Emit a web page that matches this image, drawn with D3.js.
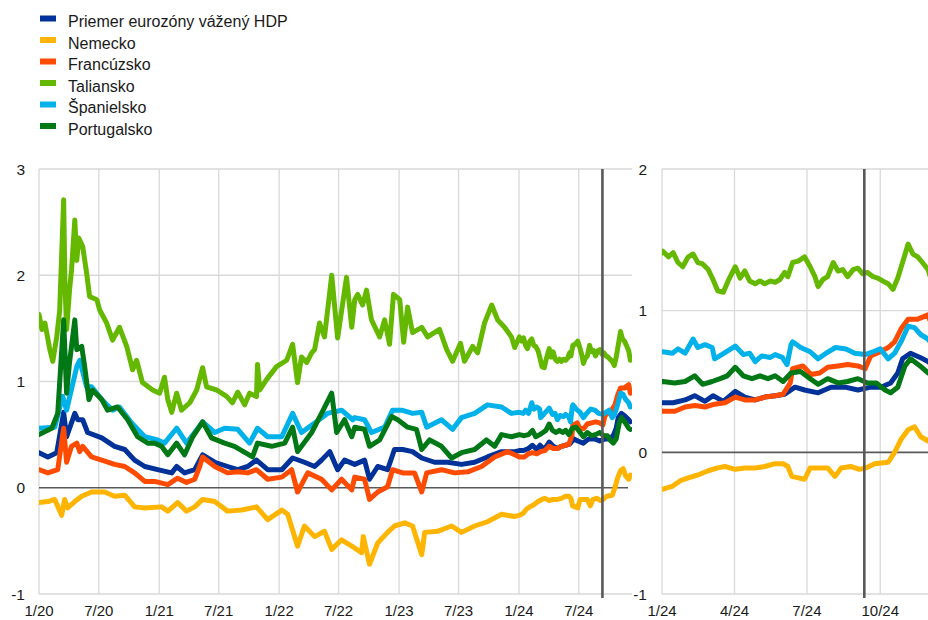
<!DOCTYPE html>
<html>
<head>
<meta charset="utf-8">
<script src="https://cdn.jsdelivr.net/npm/d3@7"></script>
<style>
  body { margin: 0; background: #fff; }
  svg text { font-family: "Liberation Sans", Arial, sans-serif; fill: #1a1a1a; }
  .grid { stroke: #d9d9d9; stroke-width: 1.3; }
  .zero { stroke: #595959; stroke-width: 1.6; }
  .event { stroke: #595959; stroke-width: 2.6; }
  .series { fill: none; stroke-width: 5; stroke-linejoin: round; stroke-linecap: round; }
</style>
</head>
<body>
<svg id="vis" width="928" height="620"></svg>
<script>
// series names as in the legend
var NAMES = ["Priemer eurozóny vážený HDP", "Nemecko", "Francúzsko", "Taliansko", "Španielsko", "Portugalsko"];

var EA = [["2020-01-01",0.33],["2020-01-28",0.29],["2020-02-24",0.33],["2020-03-16",0.71],["2020-03-25",0.48],["2020-04-19",0.70],["2020-04-28",0.64],["2020-05-13",0.64],["2020-05-28",0.52],["2020-07-10",0.47],["2020-08-18",0.39],["2020-09-18",0.36],["2020-10-18",0.26],["2020-11-18",0.20],["2020-12-27",0.17],["2021-02-08",0.14],["2021-02-23",0.20],["2021-03-19",0.14],["2021-04-19",0.17],["2021-05-13",0.31],["2021-06-19",0.24],["2021-07-28",0.20],["2021-08-28",0.17],["2021-09-27",0.20],["2021-10-24",0.26],["2021-11-27",0.17],["2022-01-09",0.17],["2022-02-11",0.28],["2022-03-19",0.24],["2022-04-19",0.20],["2022-05-10",0.26],["2022-06-04",0.34],["2022-06-28",0.17],["2022-07-19",0.26],["2022-08-19",0.22],["2022-09-18",0.26],["2022-10-03",0.08],["2022-10-28",0.20],["2022-11-27",0.17],["2022-12-18",0.36],["2023-01-12",0.36],["2023-02-11",0.34],["2023-03-11",0.28],["2023-04-19",0.24],["2023-05-29",0.24],["2023-07-10",0.22],["2023-08-19",0.24],["2023-09-27",0.29],["2023-11-09",0.34],["2023-12-19",0.34],
  ["2024-01-02",0.35],["2024-01-15",0.35],["2024-01-30",0.37],["2024-02-11",0.40],["2024-02-24",0.36],["2024-03-05",0.40],["2024-03-18",0.36],["2024-04-02",0.43],["2024-04-14",0.39],["2024-04-27",0.37],["2024-05-09",0.39],["2024-05-22",0.40],["2024-06-03",0.41],["2024-06-16",0.46],["2024-06-28",0.44],["2024-07-15",0.42],["2024-07-31",0.46],["2024-08-18",0.46],["2024-09-03",0.44],["2024-09-19",0.46],["2024-10-02",0.46],["2024-10-14",0.49],["2024-10-23",0.56],["2024-10-29",0.66],["2024-11-08",0.70],["2024-11-20",0.67],["2024-11-30",0.64],["2024-12-05",0.62]];

var DE = [["2020-01-01",-0.14],["2020-01-28",-0.13],["2020-02-18",-0.11],["2020-03-10",-0.26],["2020-03-19",-0.11],["2020-03-28",-0.19],["2020-04-19",-0.13],["2020-05-10",-0.08],["2020-06-09",-0.04],["2020-07-19",-0.04],["2020-08-18",-0.08],["2020-09-18",-0.07],["2020-10-18",-0.18],["2020-11-18",-0.19],["2021-01-08",-0.18],["2021-01-27",-0.22],["2021-02-26",-0.14],["2021-03-25",-0.22],["2021-04-19",-0.18],["2021-05-13",-0.11],["2021-06-19",-0.13],["2021-07-28",-0.22],["2021-09-09",-0.21],["2021-10-24",-0.18],["2021-11-27",-0.30],["2022-01-09",-0.21],["2022-01-27",-0.25],["2022-02-26",-0.55],["2022-03-19",-0.36],["2022-04-19",-0.46],["2022-05-19",-0.41],["2022-06-10",-0.58],["2022-07-10",-0.49],["2022-08-10",-0.55],["2022-09-09",-0.61],["2022-09-14",-0.46],["2022-10-03",-0.72],["2022-10-28",-0.52],["2022-11-27",-0.42],["2022-12-18",-0.36],["2023-01-18",-0.33],["2023-02-11",-0.36],["2023-03-11",-0.63],["2023-03-20",-0.42],["2023-04-28",-0.41],["2023-06-10",-0.36],["2023-07-10",-0.42],["2023-08-19",-0.36],["2023-09-27",-0.32],["2023-11-09",-0.25],["2023-12-19",-0.27],
  ["2024-01-02",-0.26],["2024-01-14",-0.24],["2024-01-24",-0.20],["2024-02-03",-0.18],["2024-02-15",-0.16],["2024-02-28",-0.13],["2024-03-11",-0.11],["2024-03-20",-0.10],["2024-04-02",-0.12],["2024-04-14",-0.11],["2024-04-27",-0.11],["2024-05-09",-0.10],["2024-05-22",-0.08],["2024-06-01",-0.08],["2024-06-07",-0.10],["2024-06-12",-0.17],["2024-06-20",-0.18],["2024-06-28",-0.19],["2024-07-05",-0.11],["2024-07-27",-0.11],["2024-08-05",-0.17],["2024-08-13",-0.11],["2024-08-25",-0.10],["2024-09-05",-0.12],["2024-09-13",-0.11],["2024-09-24",-0.08],["2024-10-11",-0.07],["2024-10-19",0.00],["2024-10-27",0.09],["2024-11-05",0.16],["2024-11-13",0.18],["2024-11-21",0.11],["2024-11-30",0.08],["2024-12-05",0.12]];

var FR = [["2020-01-01",0.17],["2020-01-28",0.14],["2020-02-27",0.17],["2020-03-16",0.56],["2020-03-25",0.24],["2020-04-09",0.39],["2020-04-25",0.42],["2020-05-04",0.34],["2020-05-13",0.39],["2020-06-09",0.29],["2020-07-10",0.26],["2020-08-18",0.22],["2020-09-18",0.20],["2020-10-18",0.14],["2020-11-18",0.06],["2020-12-18",0.06],["2021-01-27",0.03],["2021-02-26",0.09],["2021-03-25",0.05],["2021-04-19",0.08],["2021-05-04",0.20],["2021-05-13",0.29],["2021-06-19",0.20],["2021-07-28",0.14],["2021-08-28",0.15],["2021-09-27",0.14],["2021-10-24",0.17],["2021-11-27",0.08],["2022-01-09",0.10],["2022-02-08",0.17],["2022-02-26",-0.04],["2022-03-29",0.14],["2022-05-10",0.08],["2022-06-10",-0.02],["2022-07-10",0.08],["2022-08-10",-0.02],["2022-08-19",0.10],["2022-09-18",0.08],["2022-10-03",-0.11],["2022-10-28",-0.04],["2022-11-27",0.01],["2022-12-12",0.17],["2023-01-12",0.14],["2023-02-17",0.14],["2023-03-11",-0.04],["2023-03-26",0.14],["2023-05-10",0.17],["2023-06-19",0.14],["2023-07-29",0.15],["2023-09-09",0.20],["2023-10-19",0.29],["2023-11-27",0.34],["2023-12-19",0.31],
  ["2024-01-02",0.29],["2024-01-17",0.29],["2024-01-30",0.32],["2024-02-11",0.33],["2024-02-24",0.32],["2024-03-07",0.34],["2024-03-20",0.35],["2024-04-02",0.39],["2024-04-14",0.37],["2024-04-27",0.37],["2024-05-09",0.39],["2024-05-22",0.40],["2024-06-01",0.41],["2024-06-10",0.49],["2024-06-13",0.59],["2024-06-26",0.61],["2024-07-06",0.55],["2024-07-17",0.56],["2024-07-27",0.60],["2024-08-09",0.61],["2024-08-21",0.62],["2024-09-03",0.61],["2024-09-12",0.59],["2024-09-19",0.68],["2024-10-01",0.71],["2024-10-11",0.74],["2024-10-19",0.78],["2024-10-27",0.87],["2024-11-05",0.94],["2024-11-17",0.94],["2024-11-30",0.97],["2024-12-05",0.89]];

var IT = [["2020-01-01",1.63],["2020-01-10",1.49],["2020-01-19",1.55],["2020-02-03",1.30],["2020-02-12",1.19],["2020-02-24",1.42],["2020-03-04",1.67],["2020-03-16",2.71],["2020-03-20",1.93],["2020-03-25",1.49],["2020-04-03",1.86],["2020-04-09",2.05],["2020-04-19",2.52],["2020-04-25",2.14],["2020-05-01",2.35],["2020-05-13",2.27],["2020-05-25",2.02],["2020-06-03",1.80],["2020-06-25",1.77],["2020-07-04",1.67],["2020-07-25",1.55],["2020-08-12",1.39],["2020-09-02",1.51],["2020-09-24",1.33],["2020-10-12",1.11],["2020-10-24",1.20],["2020-11-11",0.99],["2020-12-12",0.92],["2021-01-02",0.89],["2021-01-17",1.04],["2021-01-27",0.83],["2021-02-08",0.71],["2021-02-23",0.89],["2021-03-10",0.73],["2021-04-04",0.80],["2021-04-25",0.92],["2021-05-13",1.13],["2021-05-25",0.95],["2021-06-25",0.92],["2021-07-25",0.86],["2021-08-12",0.80],["2021-08-28",0.90],["2021-09-18",0.78],["2021-10-03",0.89],["2021-10-24",0.86],["2021-10-27",1.16],["2021-11-03",0.92],["2021-11-24",1.02],["2021-12-24",1.14],["2022-01-24",1.20],["2022-02-11",1.35],["2022-02-26",0.99],["2022-03-10",1.23],["2022-03-26",1.18],["2022-04-10",1.27],["2022-04-19",1.30],["2022-05-04",1.55],["2022-05-19",1.42],["2022-06-10",2.00],["2022-06-28",1.41],["2022-07-25",1.98],["2022-08-10",1.51],["2022-08-19",1.77],["2022-08-28",1.82],["2022-09-12",1.72],["2022-09-24",1.86],["2022-10-09",1.58],["2022-11-03",1.42],["2022-11-18",1.58],["2022-12-03",1.35],["2022-12-15",1.82],["2023-01-03",1.77],["2023-01-15",1.37],["2023-01-27",1.70],["2023-02-11",1.46],["2023-03-11",1.51],["2023-03-29",1.42],["2023-05-04",1.49],["2023-05-26",1.30],["2023-06-13",1.19],["2023-07-07",1.36],["2023-07-19",1.19],["2023-08-13",1.33],["2023-08-28",1.27],["2023-09-18",1.55],["2023-10-10",1.72],["2023-10-28",1.58],["2023-11-18",1.51],["2023-12-09",1.42],["2023-12-19",1.32],
  ["2024-01-02",1.42],["2024-01-09",1.38],["2024-01-15",1.41],["2024-01-21",1.34],["2024-01-27",1.31],["2024-02-03",1.38],["2024-02-09",1.40],["2024-02-15",1.34],["2024-02-21",1.33],["2024-02-28",1.29],["2024-03-05",1.22],["2024-03-11",1.14],["2024-03-18",1.13],["2024-03-24",1.21],["2024-04-02",1.31],["2024-04-08",1.23],["2024-04-14",1.28],["2024-04-20",1.21],["2024-04-27",1.19],["2024-05-03",1.21],["2024-05-09",1.19],["2024-05-16",1.21],["2024-05-22",1.20],["2024-05-28",1.22],["2024-06-03",1.27],["2024-06-07",1.24],["2024-06-13",1.34],["2024-06-20",1.35],["2024-06-28",1.38],["2024-07-05",1.31],["2024-07-11",1.24],["2024-07-15",1.17],["2024-07-21",1.22],["2024-07-27",1.24],["2024-08-03",1.34],["2024-08-09",1.28],["2024-08-15",1.29],["2024-08-21",1.24],["2024-08-28",1.29],["2024-09-03",1.30],["2024-09-09",1.26],["2024-09-15",1.27],["2024-09-22",1.24],["2024-09-28",1.23],["2024-10-04",1.21],["2024-10-11",1.19],["2024-10-17",1.15],["2024-10-23",1.23],["2024-10-29",1.34],["2024-11-05",1.47],["2024-11-11",1.40],["2024-11-17",1.38],["2024-11-23",1.34],["2024-11-30",1.29],["2024-12-05",1.20]];

var ES = [["2020-01-01",0.56],["2020-02-18",0.57],["2020-03-13",0.86],["2020-03-25",0.73],["2020-04-25",1.14],["2020-05-04",1.20],["2020-05-25",0.95],["2020-06-09",0.95],["2020-07-10",0.83],["2020-08-12",0.73],["2020-09-02",0.76],["2020-10-09",0.61],["2020-11-18",0.48],["2020-12-27",0.45],["2021-01-17",0.42],["2021-02-23",0.56],["2021-03-25",0.42],["2021-04-19",0.52],["2021-05-13",0.62],["2021-06-19",0.52],["2021-07-19",0.56],["2021-08-28",0.55],["2021-10-03",0.42],["2021-10-27",0.56],["2021-11-27",0.48],["2022-01-09",0.48],["2022-02-11",0.70],["2022-03-10",0.52],["2022-04-19",0.61],["2022-05-28",0.70],["2022-07-10",0.73],["2022-08-13",0.64],["2022-08-19",0.66],["2022-09-18",0.64],["2022-10-09",0.52],["2022-11-18",0.57],["2022-12-12",0.73],["2023-01-09",0.73],["2023-02-11",0.70],["2023-03-11",0.71],["2023-03-26",0.57],["2023-05-10",0.64],["2023-06-13",0.55],["2023-07-10",0.66],["2023-08-19",0.70],["2023-09-27",0.78],["2023-11-09",0.76],["2023-12-09",0.70],
  ["2024-01-02",0.71],["2024-01-14",0.70],["2024-01-21",0.73],["2024-01-30",0.70],["2024-02-09",0.80],["2024-02-15",0.74],["2024-02-24",0.76],["2024-03-04",0.74],["2024-03-07",0.66],["2024-03-16",0.69],["2024-04-02",0.75],["2024-04-12",0.69],["2024-04-20",0.70],["2024-04-27",0.64],["2024-05-05",0.68],["2024-05-16",0.67],["2024-05-22",0.69],["2024-05-31",0.67],["2024-06-06",0.62],["2024-06-11",0.76],["2024-06-13",0.78],["2024-06-23",0.74],["2024-07-05",0.71],["2024-07-15",0.66],["2024-07-25",0.70],["2024-08-06",0.74],["2024-08-19",0.73],["2024-08-30",0.70],["2024-09-12",0.69],["2024-09-22",0.71],["2024-10-01",0.73],["2024-10-11",0.66],["2024-10-19",0.70],["2024-10-27",0.78],["2024-11-05",0.89],["2024-11-13",0.88],["2024-11-21",0.83],["2024-11-30",0.80],["2024-12-05",0.76]];

var PT = [["2020-01-01",0.50],["2020-02-09",0.56],["2020-02-27",0.70],["2020-03-16",1.58],["2020-03-25",0.89],["2020-04-03",1.18],["2020-04-19",1.58],["2020-04-25",1.30],["2020-05-10",1.33],["2020-05-19",1.14],["2020-06-01",0.83],["2020-06-12",0.92],["2020-07-10",0.83],["2020-07-28",0.73],["2020-08-27",0.76],["2020-09-27",0.64],["2020-10-27",0.48],["2020-11-27",0.42],["2020-12-18",0.42],["2021-01-08",0.39],["2021-01-27",0.31],["2021-02-23",0.42],["2021-03-19",0.31],["2021-04-13",0.48],["2021-05-13",0.62],["2021-06-09",0.47],["2021-07-19",0.42],["2021-08-18",0.39],["2021-10-12",0.29],["2021-10-27",0.42],["2021-12-09",0.39],["2022-01-18",0.42],["2022-02-11",0.57],["2022-02-26",0.34],["2022-04-10",0.52],["2022-05-10",0.70],["2022-06-10",0.89],["2022-06-25",0.52],["2022-07-19",0.64],["2022-08-10",0.48],["2022-08-19",0.57],["2022-09-18",0.55],["2022-10-03",0.39],["2022-11-03",0.45],["2022-12-09",0.67],["2022-12-28",0.64],["2023-01-27",0.57],["2023-02-23",0.55],["2023-03-11",0.36],["2023-04-04",0.45],["2023-05-10",0.39],["2023-06-10",0.28],["2023-07-10",0.33],["2023-08-19",0.36],["2023-09-24",0.45],["2023-10-19",0.39],["2023-11-09",0.50],["2023-12-09",0.48],
  ["2024-01-02",0.50],["2024-01-17",0.49],["2024-01-30",0.50],["2024-02-11",0.54],["2024-02-21",0.48],["2024-03-04",0.50],["2024-03-14",0.52],["2024-03-23",0.54],["2024-04-02",0.60],["2024-04-12",0.54],["2024-04-23",0.52],["2024-05-03",0.54],["2024-05-13",0.52],["2024-05-22",0.54],["2024-06-01",0.50],["2024-06-11",0.56],["2024-06-23",0.57],["2024-07-05",0.52],["2024-07-15",0.48],["2024-07-27",0.52],["2024-08-09",0.49],["2024-08-21",0.50],["2024-09-03",0.52],["2024-09-15",0.49],["2024-09-26",0.49],["2024-10-07",0.44],["2024-10-14",0.42],["2024-10-23",0.46],["2024-11-01",0.61],["2024-11-08",0.66],["2024-11-20",0.61],["2024-11-30",0.56],["2024-12-05",0.55]];

var SERIES = [EA, DE, FR, IT, ES, PT];
var COLORS = ["#003299", "#ffb400", "#ff4b00", "#65b800", "#00b1ea", "#007816"];

// tick labels
var LEFT_Y_TICKS = [-1, 0, 1, 2, 3];
var RIGHT_Y_TICKS = [-1, 0, 1, 2];
var LEFT_X_TICKS = ["2020-01-01", "2020-07-01", "2021-01-01", "2021-07-01", "2022-01-01", "2022-07-01", "2023-01-01", "2023-07-01", "2024-01-01", "2024-07-01"];
var RIGHT_X_TICKS = ["2024-01-01", "2024-04-01", "2024-07-01", "2024-10-01", "2025-01-01"];
var EVENT_DATE = "2024-09-11";

var parse = d3.timeParse("%Y-%m-%d");
var fmt = d3.timeFormat("%-m/%y");
var svg = d3.select("#vis");

drawLegend();

drawPanel({
	id: "left",
	x: d3.scaleTime().domain([parse("2020-01-01"), parse("2024-12-10")]).range([39, 632]),
	y: d3.scaleLinear().domain([-1, 3]).range([594, 169]),
	yTicks: LEFT_Y_TICKS,
	xTicks: LEFT_X_TICKS,
	labelX: 25,
	zeroEnd: 628
});

drawPanel({
	id: "right",
	x: d3.scaleTime().domain([parse("2024-01-01"), parse("2024-12-10")]).range([662, 936]),
	y: d3.scaleLinear().domain([-1, 2]).range([594, 169]),
	yTicks: RIGHT_Y_TICKS,
	xTicks: RIGHT_X_TICKS,
	labelX: 647,
	zeroEnd: 928
});

function drawPanel(p) {
	var g = svg.append("g");
	var x0 = p.x.range()[0], x1 = p.x.range()[1];
	var top = p.y.range()[1], bottom = p.y.range()[0];

	g.append("clipPath")
	 .attr("id", "clip-" + p.id)
	 .append("rect")
	 .attr("x", x0)
	 .attr("y", top - 10)
	 .attr("width", x1 - x0)
	 .attr("height", bottom - top + 20);

	// horizontal grid (not zero)
	g.selectAll(".hgrid")
	 .data(p.yTicks.filter(d => d != 0))
	 .enter()
	 .append("line")
	 .attr("class", "grid")
	 .attr("x1", x0)
	 .attr("x2", Math.min(x1, 928))
	 .attr("y1", d => p.y(d))
	 .attr("y2", d => p.y(d));

	// vertical grid, first one is the axis
	g.selectAll(".vgrid")
	 .data(p.xTicks.map(parse).filter(d => p.x(d) <= 928))
	 .enter()
	 .append("line")
	 .attr("class", "grid")
	 .attr("x1", d => p.x(d))
	 .attr("x2", d => p.x(d))
	 .attr("y1", top)
	 .attr("y2", bottom);

	// y labels
	g.selectAll(".ylab")
	 .data(p.yTicks)
	 .enter()
	 .append("text")
	 .attr("x", p.labelX)
	 .attr("y", d => p.y(d) + 5.5)
	 .attr("text-anchor", "end")
	 .attr("font-size", 15.5)
	 .text(d => d);

	// x labels
	g.selectAll(".xlab")
	 .data(p.xTicks.map(parse).filter(d => p.x(d) <= 928))
	 .enter()
	 .append("text")
	 .attr("x", d => p.x(d))
	 .attr("y", 616)
	 .attr("text-anchor", "middle")
	 .attr("font-size", 15)
	 .text(d => fmt(d));

	// zero line
	g.append("line")
	 .attr("class", "zero")
	 .attr("x1", x0)
	 .attr("x2", p.zeroEnd)
	 .attr("y1", p.y(0))
	 .attr("y2", p.y(0));

	// series
	var line = d3.line()
	             .x(d => p.x(parse(d[0])))
	             .y(d => p.y(d[1]));

	g.append("g")
	 .attr("clip-path", "url(#clip-" + p.id + ")")
	 .selectAll("path")
	 .data(SERIES)
	 .enter()
	 .append("path")
	 .attr("class", "series")
	 .attr("stroke", (d, i) => COLORS[i])
	 .attr("d", line);

	// event marker
	g.append("line")
	 .attr("class", "event")
	 .attr("x1", p.x(parse(EVENT_DATE)))
	 .attr("x2", p.x(parse(EVENT_DATE)))
	 .attr("y1", top)
	 .attr("y2", bottom + 4);
}

function drawLegend() {
	var items = svg.append("g")
	               .selectAll("g")
	               .data(NAMES)
	               .enter()
	               .append("g")
	               .attr("transform", (d, i) => "translate(40," + (18.5 + i * 21.5) + ")");

	items.append("rect")
	     .attr("x", 0)
	     .attr("y", -3)
	     .attr("width", 16)
	     .attr("height", 6)
	     .attr("fill", (d, i) => COLORS[i]);

	items.append("text")
	     .attr("x", 28)
	     .attr("y", 8.5)
	     .attr("font-size", 16)
	     .text(d => d);
}
</script>
</body>
</html>
